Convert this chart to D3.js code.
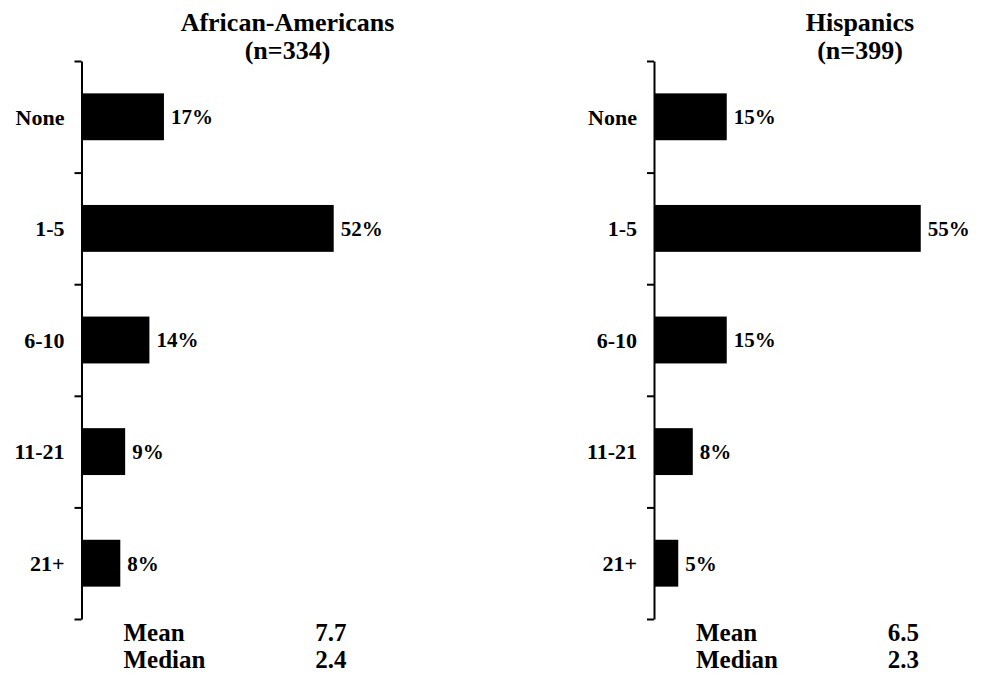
<!DOCTYPE html>
<html><head><meta charset="utf-8">
<script src="https://cdn.jsdelivr.net/npm/d3@7"></script>
<style>body{margin:0;background:#fff}text{font-family:"Liberation Serif","Times New Roman",serif;font-weight:bold;fill:#000}</style>
</head><body><svg id="c" width="982" height="675"></svg>
<script>
const categories = ["None","1-5","6-10","11-21","21+"];
const africanAmericans = [17,52,14,9,8];
const hispanics = [15,55,15,8,5];
const panelTitles = ["African-Americans","Hispanics"];
const panelN = ["(n=334)","(n=399)"];
const means = ["7.7","6.5"];
const medians = ["2.4","2.3"];

const panels = [
  {title: panelTitles[0], n: panelN[0], values: africanAmericans, mean: means[0], median: medians[0], ox: 81.5},
  {title: panelTitles[1], n: panelN[1], values: hispanics, mean: means[1], median: medians[1], ox: 654}
];
const svg = d3.select("#c");
const yTop = 61, yBottom = 619;
const y = d3.scaleBand().domain(categories).range([yTop,yBottom]).paddingInner(0.58).paddingOuter(0.29);
const x = d3.scaleLinear().domain([0,100]).range([0,485]);
const yb = d3.scaleLinear().domain([0,categories.length]).range([yTop,yBottom]);

panels.forEach(p => {
  const g = svg.append("g").attr("transform",`translate(${p.ox},0)`);
  g.selectAll("rect").data(p.values).join("rect")
    .attr("x",0).attr("y",(d,i)=>y(categories[i])).attr("width",d=>x(d)).attr("height",y.bandwidth()).attr("fill","#000");
  const ax = g.append("g").call(d3.axisLeft(yb).tickValues(d3.range(0,categories.length+1)).tickSize(7).tickSizeOuter(0).tickFormat(""));
  ax.selectAll("path,line").attr("stroke","#000").attr("stroke-width",2);
  g.selectAll("text.cat").data(categories).join("text").attr("class","cat")
    .attr("x",-17).attr("y",d=>y(d)+y.bandwidth()/2).attr("dy","0.35em").attr("text-anchor","end").attr("font-size",22).text(d=>d);
  g.selectAll("text.val").data(p.values).join("text").attr("class","val")
    .attr("x",d=>x(d)+7).attr("y",(d,i)=>y(categories[i])+y.bandwidth()/2).attr("dy","0.35em").attr("font-size",21).text(d=>d+"%");
  g.append("text").attr("x",206).attr("y",31).attr("text-anchor","middle").attr("font-size",26).text(p.title);
  g.append("text").attr("x",206).attr("y",59).attr("text-anchor","middle").attr("font-size",26).text(p.n);
  g.append("text").attr("x",42).attr("y",641).attr("font-size",25).text("Mean");
  g.append("text").attr("x",42).attr("y",668).attr("font-size",25).text("Median");
  g.append("text").attr("x",265).attr("y",641).attr("text-anchor","end").attr("font-size",25).text(p.mean);
  g.append("text").attr("x",265).attr("y",668).attr("text-anchor","end").attr("font-size",25).text(p.median);
});
</script></body></html>
